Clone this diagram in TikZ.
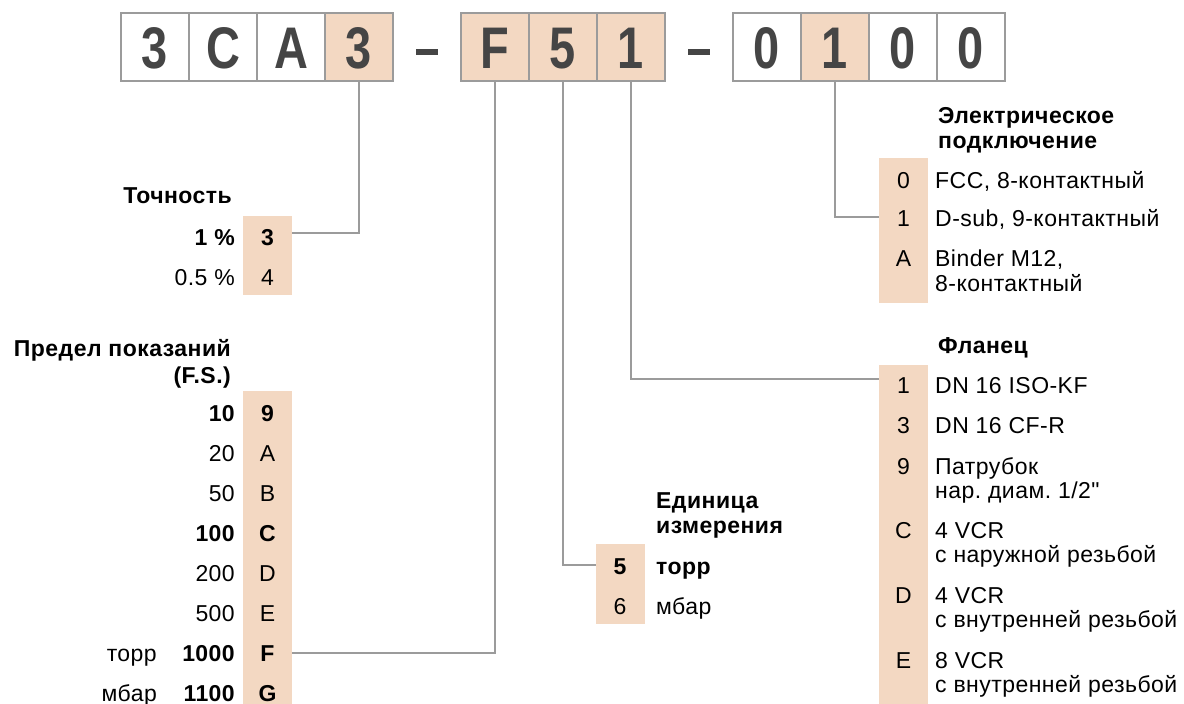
\documentclass[tikz,border=0pt]{standalone}
\usepackage{fontspec}
\setmainfont{Liberation Sans}
\newfontfamily\labfont{Liberation Sans}[LetterSpace=2]
\definecolor{peach}{RGB}{243,216,194}
\definecolor{frame}{RGB}{155,155,155}
\definecolor{ink}{RGB}{69,69,69}
\newcommand{\cond}[1]{\scalebox{0.8}[1]{#1}}
\frenchspacing
\tikzset{
  lab/.style={inner sep=0pt, text height=16.5pt, text depth=0pt, font=\labfont\fontsize{23}{27}\selectfont},
  labb/.style={lab, font=\labfont\fontsize{23}{27}\selectfont\bfseries},
  codebox/.style={draw=frame, line width=1.5pt, minimum width=68pt, minimum height=68pt,
    inner sep=0pt, text height=42pt, text depth=0pt, text=ink,
    font=\fontsize{58.7}{60}\selectfont\bfseries},
  hi/.style={codebox, fill=peach},
  lo/.style={codebox, fill=white},
  dashbar/.style={fill=ink, minimum width=22pt, minimum height=5.5pt, inner sep=0pt},
  column/.style={fill=peach, inner sep=0pt, minimum width=49pt, anchor=north west},
  conn/.style={draw=frame, line width=1.3pt},
}
\begin{document}
\begin{tikzpicture}[x=1pt,y=-1pt]
\useasboundingbox (0,0) rectangle (1184,704);

% ---- order code ----
\node[lo] (b1) at (155,47) {\cond{3}};
\node[lo] (b2) at (223,47) {\cond{C}};
\node[lo] (b3) at (291,47) {\cond{A}};
\node[hi] (b4) at (359,47) {\cond{3}};
\node[dashbar] (d1) at (427,52) {};
\node[hi] (b5) at (495,47) {\cond{F}};
\node[hi] (b6) at (563,47) {\cond{5}};
\node[hi] (b7) at (631,47) {\cond{1}};
\node[dashbar] (d2) at (699,52) {};
\node[lo] (b8) at (767,47) {\cond{0}};
\node[hi] (b9) at (835,47) {\cond{1}};
\node[lo] (b10) at (903,47) {\cond{0}};
\node[lo] (b11) at (971,47) {\cond{0}};

% ---- accuracy ----
\node[labb, anchor=east] (accT) at (232,195) {Точность};
\node[column, minimum height=79pt] (accCol) at (243,216) {};
\node[labb, anchor=east] (accL1) at (235,237) {1 \%};
\node[lab, anchor=east] (accL2) at (235,277) {0.5 \%};
\node[labb] (acc3) at (267.5,237) {3};
\node[lab] (acc4) at (267.5,277) {4};

% ---- full scale ----
\node[labb, anchor=east] (rngT1) at (231,348) {Предел показаний};
\node[labb, anchor=east] (rngT2) at (231,375) {(F.S.)};
\node[column, minimum height=313pt] (rngCol) at (243,391) {};
\node[labb, anchor=east] (rL1) at (235,413) {10};
\node[lab, anchor=east] (rL2) at (235,453) {20};
\node[lab, anchor=east] (rL3) at (235,493) {50};
\node[labb, anchor=east] (rL4) at (235,533) {100};
\node[lab, anchor=east] (rL5) at (235,573) {200};
\node[lab, anchor=east] (rL6) at (235,613) {500};
\node[labb, anchor=east] (rL7) at (235,653) {1000};
\node[labb, anchor=east] (rL8) at (235,693) {1100};
\node[lab, anchor=east] (rU7) at (157,653) {торр};
\node[lab, anchor=east] (rU8) at (157,693) {мбар};
\node[labb] (r9) at (267.5,413) {9};
\node[lab] (rA) at (267.5,453) {A};
\node[lab] (rB) at (267.5,493) {B};
\node[labb] (rC) at (267.5,533) {C};
\node[lab] (rD) at (267.5,573) {D};
\node[lab] (rE) at (267.5,613) {E};
\node[labb] (rF) at (267.5,653) {F};
\node[labb] (rG) at (267.5,693) {G};

% ---- unit ----
\node[labb, anchor=west] (uT1) at (656,500) {Единица};
\node[labb, anchor=west] (uT2) at (656,525) {измерения};
\node[column, minimum height=80pt] (uCol) at (596,544) {};
\node[labb] (u5) at (620,566) {5};
\node[lab] (u6) at (620,606) {6};
\node[labb, anchor=west] (uL5) at (656,566) {торр};
\node[lab, anchor=west] (uL6) at (656,606) {мбар};

% ---- electrical connection ----
\node[labb, anchor=west] (eT1) at (938,115) {Электрическое};
\node[labb, anchor=west] (eT2) at (938,140) {подключение};
\node[column, minimum height=145pt] (eCol) at (879,158) {};
\node[lab] (e0) at (903.5,180) {0};
\node[lab] (e1) at (903.5,218) {1};
\node[lab] (eA) at (903.5,258) {A};
\node[lab, anchor=west] (eL0) at (935,180) {FCC, 8-контактный};
\node[lab, anchor=west] (eL1) at (935,218) {D-sub, 9-контактный};
\node[lab, anchor=west] (eLA) at (935,258) {Binder M12,};
\node[lab, anchor=west] (eLAb) at (935,283) {8-контактный};

% ---- flange ----
\node[labb, anchor=west] (fT) at (938,345) {Фланец};
\node[column, minimum height=339pt] (fCol) at (879,365) {};
\node[lab] (f1) at (903.5,385) {1};
\node[lab] (f3) at (903.5,425) {3};
\node[lab] (f9) at (903.5,466) {9};
\node[lab] (fC) at (903.5,530) {C};
\node[lab] (fD) at (903.5,595) {D};
\node[lab] (fE) at (903.5,660) {E};
\node[lab, anchor=west] (fL1) at (935,385) {DN 16 ISO-KF};
\node[lab, anchor=west] (fL3) at (935,425) {DN 16 CF-R};
\node[lab, anchor=west] (fL9) at (935,466) {Патрубок};
\node[lab, anchor=west] (fL9b) at (935,490) {нар. диам. 1/2"};
\node[lab, anchor=west] (fLC) at (935,530) {4 VCR};
\node[lab, anchor=west] (fLCb) at (935,554) {с наружной резьбой};
\node[lab, anchor=west] (fLD) at (935,595) {4 VCR};
\node[lab, anchor=west] (fLDb) at (935,619) {с внутренней резьбой};
\node[lab, anchor=west] (fLE) at (935,660) {8 VCR};
\node[lab, anchor=west] (fLEb) at (935,684) {с внутренней резьбой};

% ---- connectors ----
\draw[conn] (b4.south) |- ([yshift=4pt]acc3.center -| accCol.east);
\draw[conn] (b5.south) |- (rF.center -| rngCol.east);
\draw[conn] (b6.south) |- ([yshift=1pt]u5.center -| uCol.west);
\draw[conn] (b7.south) |- ([yshift=6pt]f1.center -| fCol.west);
\draw[conn] (b9.south) |- ([yshift=1pt]e1.center -| eCol.west);
\end{tikzpicture}
\end{document}
